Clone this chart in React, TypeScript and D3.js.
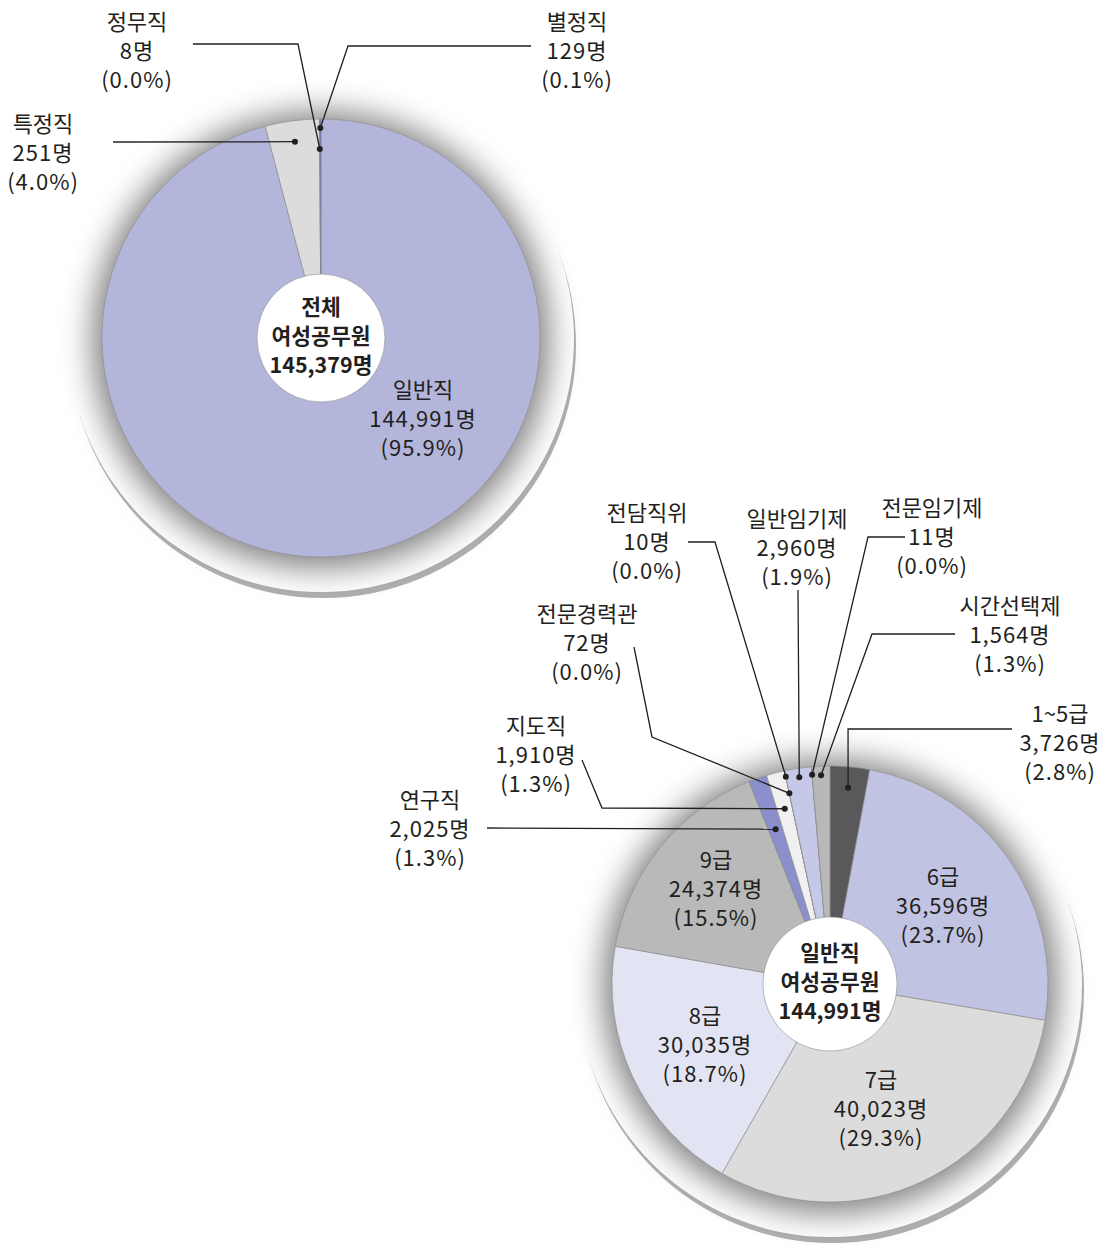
import React from 'react';
import * as d3 from 'd3';

const W = 1113;
const H = 1245;

// 전체 여성공무원 - 직종별
const typeCategories = ['일반직', '특정직', '정무직', '별정직'];
const typeCounts = [144991, 251, 8, 129];
const typeShares = [95.9, 4.0, 0.0, 0.1];

// 일반직 여성공무원 - 직급별
const gradeCategories = [
  '1~5급', '6급', '7급', '8급', '9급', '연구직', '지도직',
  '전문경력관', '전담직위', '일반임기제', '전문임기제', '시간선택제'
];
const gradeCounts = [3726, 36596, 40023, 30035, 24374, 2025, 1910, 72, 10, 2960, 11, 1564];
const gradeShares = [2.8, 23.7, 29.3, 18.7, 15.5, 1.3, 1.3, 0.0, 0.0, 1.9, 0.0, 1.3];

const typeColors = ['#b3b5da', '#dcdcdc', '#9a9a9a', '#6c74b6'];
const gradeColors = [
  '#59595b', '#c1c3e3', '#dcdcdc', '#e3e4f3', '#b9b9b9', '#8b90cc',
  '#f0f0f0', '#e6e6e6', '#e6e6e6', '#c6c8e7', '#d0d0d0', '#b8b8b8'
];

// label layout: text centre (first line), leader elbows (null = follow dot), dot radius
type Spot = { x: number; y: number; leader?: (number | null)[][]; dotR?: number };

const typeSpots: Spot[] = [
  { x: 423, y: 388 },
  { x: 43, y: 122, leader: [[113, 142]], dotR: 198 },
  { x: 137, y: 20, leader: [[193, 44], [298, 44]], dotR: 189 },
  { x: 577, y: 20, leader: [[531, 46], [348, 46]], dotR: 210 },
];

const gradeSpots: Spot[] = [
  { x: 1060, y: 712, leader: [[1012, 729], [null, 729]], dotR: 197 },
  { x: 943, y: 875 },
  { x: 881, y: 1078 },
  { x: 705, y: 1014 },
  { x: 716, y: 858 },
  { x: 430, y: 798, leader: [[487, 828]], dotR: 164 },
  { x: 536, y: 724, leader: [[582, 760], [602, 808]], dotR: 181 },
  { x: 587, y: 612, leader: [[634, 647], [652, 737]], dotR: 195 },
  { x: 647, y: 511, leader: [[688, 542], [715, 542]], dotR: 212 },
  { x: 797, y: 517, leader: [[798, 590]], dotR: 209 },
  { x: 932, y: 506, leader: [[905, 537], [868, 537]], dotR: 210 },
  { x: 1010, y: 604, leader: [[955, 634], [872, 634]], dotR: 209 },
];

const FONT = '"Noto Sans CJK KR", "Noto Sans", sans-serif';
const INK = '#231f20';
const LINE_H = 29;
const fmt = d3.format(',');

type PieProps = {
  cx: number;
  cy: number;
  r: number;
  innerR: number;
  categories: string[];
  counts: number[];
  shares: number[];
  colors: string[];
  spots: Spot[];
  centerLines: string[];
};

const PieBlock: React.FC<PieProps> = ({ cx, cy, r, innerR, categories, counts, shares, colors, spots, centerLines }) => {
  const items = categories.map((c, i) => ({ name: c, count: counts[i], share: shares[i], i }));
  const arcs = d3.pie<any>().sort(null).value(d => d.share)(items);
  const arcGen = d3.arc<any>().innerRadius(0).outerRadius(r);
  const R = r + 34;

  const dotPos = (a: any, rd: number): [number, number] => {
    const ang = (a.startAngle + a.endAngle) / 2;
    return [cx + rd * Math.sin(ang), cy - rd * Math.cos(ang)];
  };

  return (
    <g>
      <circle cx={cx + 2} cy={cy + 7} r={R} fill="#b0b0b0" />
      <circle cx={cx} cy={cy + 1} r={R} fill="#ffffff" />
      <circle cx={cx} cy={cy + 2} r={r + 9} fill="#000" opacity={0.5} filter="url(#softShadow)" />
      <g transform={`translate(${cx},${cy})`}>
        {arcs.map(a => (
          <path key={a.data.name} d={arcGen(a) || ''} fill={colors[a.data.i]} stroke="#8c8c8c" strokeWidth={0.6} />
        ))}
      </g>
      <circle cx={cx} cy={cy} r={innerR} fill="#fff" stroke="#8c8c8c" strokeWidth={0.6} />
      {centerLines.map((t, k) => (
        <text key={t} x={cx} y={cy - 33 + k * 29} textAnchor="middle" dominantBaseline="central"
          fontFamily={FONT} fontSize={21.5} fontWeight={700} fill={INK}>{t}</text>
      ))}
      {arcs.map(a => {
        const s = spots[a.data.i];
        const lines = [a.data.name, `${fmt(a.data.count)}명`, `(${a.data.share.toFixed(1)}%)`];
        let leader = null;
        if (s.leader && s.dotR) {
          const [dx, dy] = dotPos(a, s.dotR);
          const pts = s.leader.map(p => [p[0] === null ? dx : p[0], p[1] === null ? dy : p[1]] as [number, number]);
          pts.push([dx, dy]);
          leader = (
            <g>
              <path d={d3.line()(pts) || ''} fill="none" stroke={INK} strokeWidth={1.3} />
              <circle cx={dx} cy={dy} r={3} fill={INK} />
            </g>
          );
        }
        return (
          <g key={a.data.name}>
            {leader}
            {lines.map((t, k) => (
              <text key={k} x={s.x} y={s.y + k * LINE_H} textAnchor="middle" dominantBaseline="central"
                fontFamily={FONT} fontSize={22} letterSpacing={k === 0 ? 0 : 1} fill={INK}>{t}</text>
            ))}
          </g>
        );
      })}
    </g>
  );
};

export default function App() {
  const total = d3.sum(typeCounts);
  return (
    <div style={{ position: 'absolute', left: 0, top: 0, width: W, height: H, background: '#fff' }}>
      <svg width={W} height={H} viewBox={`0 0 ${W} ${H}`}>
        <defs>
          <filter id="softShadow" x="-50%" y="-50%" width="200%" height="200%">
            <feGaussianBlur stdDeviation={16} />
          </filter>
        </defs>
        <rect width={W} height={H} fill="#fff" />
        <PieBlock
          cx={321} cy={338} r={219} innerR={64}
          categories={typeCategories} counts={typeCounts} shares={typeShares}
          colors={typeColors} spots={typeSpots}
          centerLines={['전체', '여성공무원', `${fmt(total)}명`]}
        />
        <PieBlock
          cx={830} cy={984} r={218} innerR={67}
          categories={gradeCategories} counts={gradeCounts} shares={gradeShares}
          colors={gradeColors} spots={gradeSpots}
          centerLines={['일반직', '여성공무원', `${fmt(typeCounts[0])}명`]}
        />
      </svg>
    </div>
  );
}
